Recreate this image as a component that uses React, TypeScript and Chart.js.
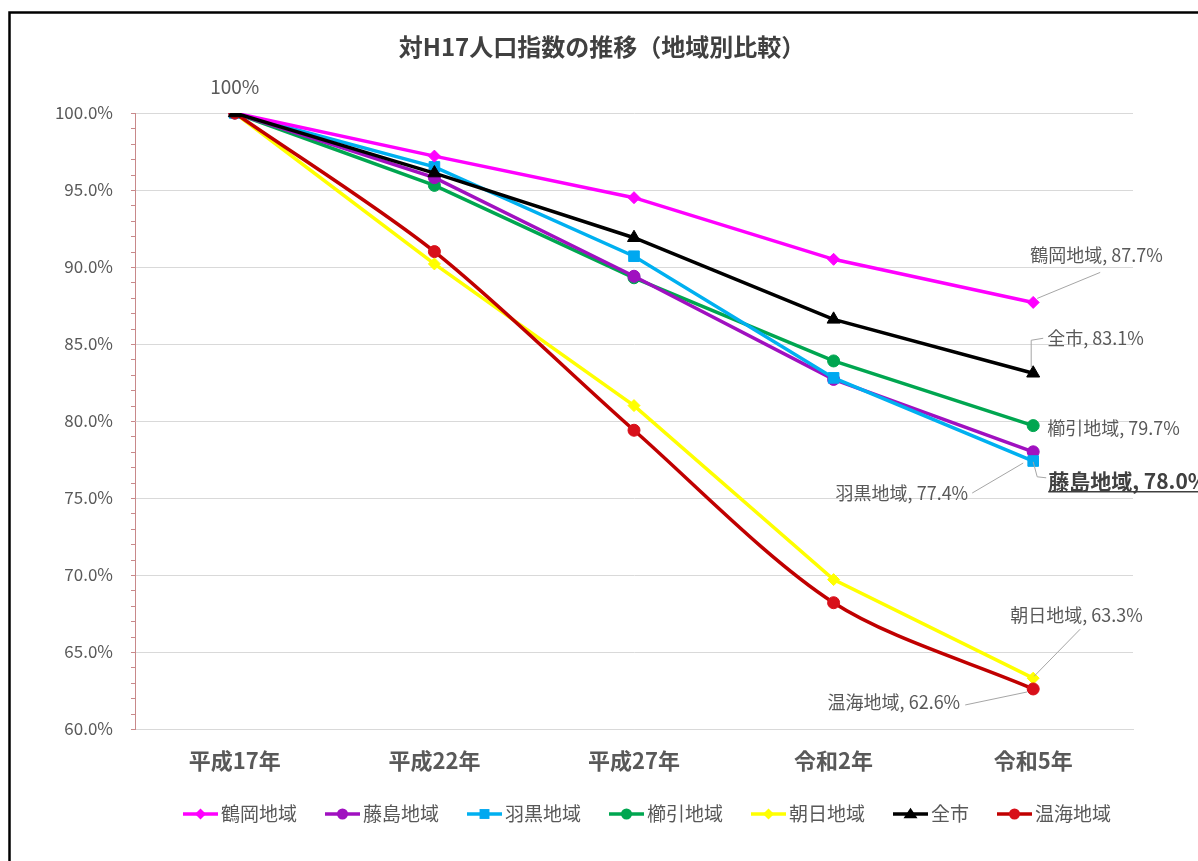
import React, { useEffect, useRef } from "react";
import { Chart, registerables } from "chart.js";

Chart.register(...registerables);

// ---- data ----
const years = ["平成17年", "平成22年", "平成27年", "令和2年", "令和5年"];
const tsuruoka = [100, 97.2, 94.5, 90.5, 87.7];
const fujishima = [100, 95.8, 89.4, 82.7, 78.0];
const haguro = [100, 96.5, 90.7, 82.8, 77.4];
const kushibiki = [100, 95.3, 89.3, 83.9, 79.7];
const asahi = [100, 90.2, 81.0, 69.7, 63.3];
const zenshi = [100, 96.1, 91.9, 86.6, 83.1];
const atsumi = [100, 91.0, 79.4, 68.2, 62.6];
const yTicks = [60, 65, 70, 75, 80, 85, 90, 95, 100];
const baseLabel = "100%";
const chartTitle = "対H17人口指数の推移（地域別比較）";

const FONT = "'Noto Sans CJK JP', 'Noto Sans', sans-serif";

type Style = "circle" | "rect" | "rectRot" | "triangle";

interface SeriesDef {
  name: string;
  data: number[];
  color: string;
  pointColor: string;
  style: Style;
  radius: number;
  tension: number;
  order: number;
}

const series: SeriesDef[] = [
  { name: "鶴岡地域", data: tsuruoka, color: "#FF00FF", pointColor: "#FF00FF", style: "rectRot", radius: 6, tension: 0, order: 2 },
  { name: "藤島地域", data: fujishima, color: "#A010C0", pointColor: "#A010C0", style: "circle", radius: 6, tension: 0, order: 4 },
  { name: "羽黒地域", data: haguro, color: "#00B0F0", pointColor: "#00A8F0", style: "rect", radius: 7.5, tension: 0, order: 3 },
  { name: "櫛引地域", data: kushibiki, color: "#00A650", pointColor: "#00A650", style: "circle", radius: 6, tension: 0, order: 5 },
  { name: "朝日地域", data: asahi, color: "#FFFF00", pointColor: "#FFFF00", style: "rectRot", radius: 6, tension: 0, order: 6 },
  { name: "全市", data: zenshi, color: "#000000", pointColor: "#000000", style: "triangle", radius: 7.5, tension: 0, order: 0 },
  { name: "温海地域", data: atsumi, color: "#C00000", pointColor: "#D8101A", style: "circle", radius: 6, tension: 0.3, order: 1 },
];

// callout placement for the end-point labels (offsets from the last point)
interface Callout {
  dx: number;
  dy: number;
  align: CanvasTextAlign;
  leader: [number, number][];
  emphasis?: boolean;
}

const callouts: Record<string, Callout> = {
  "鶴岡地域": { dx: -3, dy: -47, align: "left", leader: [[4, -4], [67, -30]] },
  "全市": { dx: 14, dy: -35, align: "left", leader: [[-2, -6], [-2, -33], [10, -35]] },
  "櫛引地域": { dx: 14, dy: 3, align: "left", leader: [] },
  "藤島地域": { dx: 15, dy: 29, align: "left", leader: [[0, 10], [4, 25], [13, 26]], emphasis: true },
  "羽黒地域": { dx: -65, dy: 32, align: "right", leader: [[-61, 32], [-10, 2]] },
  "朝日地域": { dx: -23, dy: -63, align: "left", leader: [[47, -49], [1, -2]] },
  "温海地域": { dx: -73, dy: 13, align: "right", leader: [[-68, 16], [-6, 3]] },
};

function drawMarker(ctx: CanvasRenderingContext2D, style: Style, x: number, y: number, r: number, color: string) {
  ctx.save();
  ctx.fillStyle = color;
  ctx.beginPath();
  if (style === "circle") {
    ctx.arc(x, y, r, 0, Math.PI * 2);
  } else if (style === "rect") {
    const s = r * Math.SQRT1_2;
    ctx.rect(x - s, y - s, 2 * s, 2 * s);
  } else if (style === "rectRot") {
    ctx.moveTo(x, y - r);
    ctx.lineTo(x + r, y);
    ctx.lineTo(x, y + r);
    ctx.lineTo(x - r, y);
    ctx.closePath();
  } else {
    const h = r * 1.5;
    ctx.moveTo(x, y - h * 0.6);
    ctx.lineTo(x + r, y + h * 0.4);
    ctx.lineTo(x - r, y + h * 0.4);
    ctx.closePath();
  }
  ctx.fill();
  ctx.restore();
}

const backgroundAndFrame = {
  id: "backgroundAndFrame",
  beforeDraw(chart: Chart) {
    const { ctx, width, height } = chart;
    ctx.save();
    ctx.fillStyle = "#ffffff";
    ctx.fillRect(0, 0, width, height);
    ctx.strokeStyle = "#000000";
    ctx.lineWidth = 2.5;
    ctx.beginPath();
    ctx.moveTo(9.5, height + 2);
    ctx.lineTo(9.5, 12.5);
    ctx.lineTo(width + 2, 12.5);
    ctx.stroke();
    ctx.restore();
  },
};

const decorations = {
  id: "decorations",
  afterDraw(chart: Chart) {
    const { ctx, chartArea } = chart;
    const yScale = chart.scales.y;
    const xScale = chart.scales.x;

    ctx.save();

    // minor tick marks on the value axis (every 1%)
    ctx.strokeStyle = "#c8898a";
    ctx.lineWidth = 1;
    for (let v = 60; v <= 100; v++) {
      const y = Math.round(yScale.getPixelForValue(v)) + 0.5;
      ctx.beginPath();
      ctx.moveTo(chartArea.left - 4, y);
      ctx.lineTo(chartArea.left, y);
      ctx.stroke();
    }

    // title
    ctx.fillStyle = "#404040";
    ctx.font = `bold 24px ${FONT}`;
    ctx.textAlign = "center";
    ctx.textBaseline = "middle";
    ctx.fillText(chartTitle, 602, 47);

    // label at the common starting point
    ctx.fillStyle = "#595959";
    ctx.font = `19px ${FONT}`;
    const x0 = xScale.getPixelForValue(0);
    const y0 = yScale.getPixelForValue(tsuruoka[0]);
    ctx.fillText(baseLabel, x0, y0 - 26);

    // end-point callouts
    series.forEach((s, i) => {
      const c = callouts[s.name];
      const meta = chart.getDatasetMeta(i);
      const last = meta.data[meta.data.length - 1];
      const px = last.x;
      const py = last.y;
      if (c.leader.length > 1) {
        ctx.strokeStyle = "#a6a6a6";
        ctx.lineWidth = 1;
        ctx.beginPath();
        c.leader.forEach(([lx, ly], k) => {
          if (k === 0) ctx.moveTo(px + lx, py + ly);
          else ctx.lineTo(px + lx, py + ly);
        });
        ctx.stroke();
      }
      const value = s.data[s.data.length - 1];
      const text = `${s.name}, ${value.toFixed(1)}%`;
      ctx.textAlign = c.align;
      ctx.textBaseline = "middle";
      const tx = px + c.dx;
      const ty = py + c.dy;
      if (c.emphasis) {
        ctx.font = `bold 21px ${FONT}`;
        ctx.fillStyle = "#404040";
        ctx.fillText(text, tx, ty);
        const w = ctx.measureText(text).width;
        ctx.strokeStyle = "#404040";
        ctx.lineWidth = 1.5;
        ctx.beginPath();
        ctx.moveTo(tx, ty + 11);
        ctx.lineTo(tx + w, ty + 11);
        ctx.stroke();
      } else {
        ctx.font = `18px ${FONT}`;
        ctx.fillStyle = "#595959";
        ctx.fillText(text, tx, ty);
      }
    });

    // legend
    const lineLen = 35;
    const afterLine = 3;
    const itemGap = 28;
    ctx.font = `19px ${FONT}`;
    const widths = series.map((s) => ctx.measureText(s.name).width);
    const total = widths.reduce((a, w) => a + lineLen + afterLine + w, 0) + itemGap * (series.length - 1);
    let lx = (chartArea.left + chartArea.right) / 2 + 13 - total / 2;
    const ly = 814;
    series.forEach((s, i) => {
      ctx.strokeStyle = s.color;
      ctx.lineWidth = 3.5;
      ctx.beginPath();
      ctx.moveTo(lx, ly);
      ctx.lineTo(lx + lineLen, ly);
      ctx.stroke();
      drawMarker(ctx, s.style, lx + lineLen / 2, ly, s.style === "rect" || s.style === "triangle" ? 7 : 5.5, s.pointColor);
      ctx.fillStyle = "#595959";
      ctx.textAlign = "left";
      ctx.textBaseline = "middle";
      ctx.fillText(s.name, lx + lineLen + afterLine, ly);
      lx += lineLen + afterLine + widths[i] + itemGap;
    });

    ctx.restore();
  },
};

export default function App() {
  const canvasRef = useRef<HTMLCanvasElement>(null);

  useEffect(() => {
    const canvas = canvasRef.current;
    if (!canvas) return;
    const chart = new Chart(canvas, {
      type: "line",
      data: {
        labels: years,
        datasets: series.map((s) => ({
          label: s.name,
          data: s.data,
          borderColor: s.color,
          backgroundColor: s.color,
          pointBackgroundColor: s.pointColor,
          pointBorderColor: s.pointColor,
          pointBorderWidth: 1,
          pointStyle: s.style,
          pointRadius: s.radius,
          borderWidth: 3.5,
          tension: s.tension,
          order: s.order,
          fill: false,
        })),
      },
      options: {
        responsive: false,
        animation: false,
        layout: { padding: { top: 113, right: 65, bottom: 72, left: 0 } },
        plugins: {
          legend: { display: false },
          title: { display: false },
          tooltip: { enabled: false },
        },
        scales: {
          x: {
            offset: true,
            grid: { display: false, drawTicks: false },
            border: { display: true, color: "#d9d9d9", width: 1 },
            ticks: {
              color: "#595959",
              font: { family: FONT, size: 22, weight: "bold" },
              padding: 18,
            },
            afterFit: (scale: any) => {
              scale.height = 60;
            },
          },
          y: {
            min: 60,
            max: 100,
            afterBuildTicks: (scale: any) => {
              scale.ticks = yTicks.map((v) => ({ value: v }));
            },
            grid: { color: "#d9d9d9", drawTicks: false, lineWidth: 1 },
            border: { display: true, color: "#c8898a", width: 1 },
            ticks: {
              color: "#595959",
              font: { family: FONT, size: 17 },
              padding: 22,
              callback: (v: any) => Number(v).toFixed(1) + "%",
            },
            afterFit: (scale: any) => {
              scale.width = 135;
            },
          },
        },
      },
      plugins: [backgroundAndFrame, decorations],
    });
    return () => chart.destroy();
  }, []);

  return (
    <div style={{ position: "fixed", left: 0, top: 0, width: 1198, height: 861, background: "#ffffff" }}>
      <canvas ref={canvasRef} width={1198} height={861} style={{ display: "block", width: 1198, height: 861 }} />
    </div>
  );
}
